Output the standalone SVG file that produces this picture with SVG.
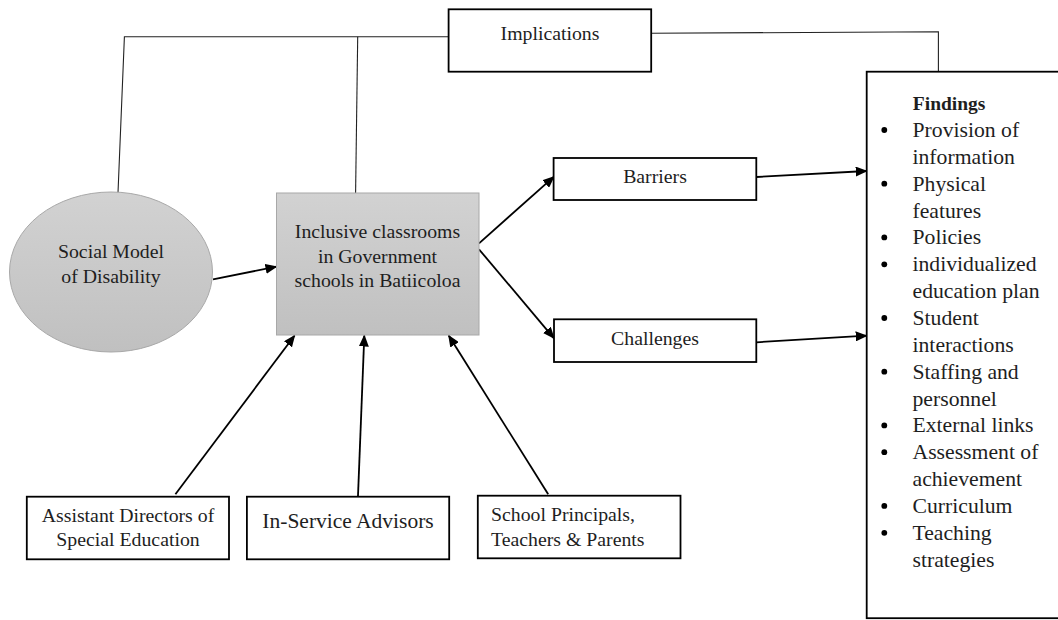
<svg xmlns="http://www.w3.org/2000/svg" width="1058" height="620" viewBox="0 0 1058 620">
<defs>
<linearGradient id="gfill" x1="0" y1="0" x2="0" y2="1">
<stop offset="0" stop-color="#d2d2d2"/>
<stop offset="1" stop-color="#c0c0c0"/>
</linearGradient>
<marker id="ah" markerUnits="userSpaceOnUse" markerWidth="12" markerHeight="10" refX="11" refY="5" orient="auto">
<path d="M0,0 L12,5 L0,10 z" fill="#000"/>
</marker>
<style>
text{font-family:"Liberation Serif","Times New Roman",serif;fill:#1e1e1e;}
.box{fill:#fff;stroke:#000;stroke-width:1.8;}
.gray{fill:url(#gfill);stroke:#a8a8a8;stroke-width:1;}
.thin{fill:none;stroke:#222;stroke-width:1.1;}
.arr{fill:none;stroke:#000;stroke-width:1.8;marker-end:url(#ah);}
.t20{font-size:19.8px;}
.tl{font-size:21.7px;}
</style>
</defs>
<rect width="1058" height="620" fill="#fff"/>

<g id="connectors">
<polyline class="thin" points="448.6,36.7 124.4,36.7 118,192.7"/>
<line class="thin" x1="357.7" y1="36.7" x2="355.6" y2="193"/>
<polyline class="thin" points="651,33.3 938.4,31.7 938.4,72"/>
<line class="arr" x1="213" y1="279.3" x2="276.5" y2="266.7"/>
<line class="arr" x1="479" y1="243.3" x2="554" y2="176.7"/>
<line class="arr" x1="479" y1="249.3" x2="554" y2="338.3"/>
<line class="arr" x1="756.3" y1="177" x2="866.7" y2="171"/>
<line class="arr" x1="756.3" y1="342.3" x2="866.7" y2="335.7"/>
<line class="arr" x1="175.4" y1="494.3" x2="294.6" y2="335.5"/>
<line class="arr" x1="358" y1="496" x2="364.3" y2="335.5"/>
<line class="arr" x1="548.2" y1="494.3" x2="448.7" y2="335.5"/>
</g>

<g id="implications">
<rect class="box" x="448.6" y="9.3" width="202.6" height="62.4"/>
<text class="t20" x="550" y="39.5" text-anchor="middle">Implications</text>
</g>

<g id="social-model">
<ellipse class="gray" cx="111" cy="272" rx="101.5" ry="80"/>
<text class="t20" x="111" y="258.3" text-anchor="middle">Social Model</text>
<text class="t20" x="111" y="283.3" text-anchor="middle">of Disability</text>
</g>

<g id="inclusive-classrooms">
<rect class="gray" x="276.5" y="193" width="202.5" height="142"/>
<text class="t20" x="377.5" y="238.3" text-anchor="middle">Inclusive classrooms</text>
<text class="t20" x="377.5" y="263.3" text-anchor="middle">in Government</text>
<text class="t20" x="377.5" y="287.3" text-anchor="middle">schools in Batiicoloa</text>
</g>

<g id="barriers">
<rect class="box" x="553.6" y="158" width="202.7" height="42"/>
<text class="t20" x="655" y="183.3" text-anchor="middle">Barriers</text>
</g>

<g id="challenges">
<rect class="box" x="554" y="319.3" width="202.3" height="42.7"/>
<text class="t20" x="655" y="345" text-anchor="middle">Challenges</text>
</g>

<g id="assistant-directors">
<rect class="box" x="26.8" y="496.7" width="202.2" height="62.6"/>
<text class="t20" x="128" y="521.7" text-anchor="middle">Assistant Directors of</text>
<text class="t20" x="128" y="546" text-anchor="middle">Special Education</text>
</g>

<g id="in-service-advisors">
<rect class="box" x="246.9" y="496.7" width="202.3" height="62.6"/>
<text x="348" y="528.3" text-anchor="middle" style="font-size:21.5px">In-Service Advisors</text>
</g>

<g id="school-principals">
<rect class="box" x="477.8" y="495.7" width="202.7" height="62.6"/>
<text class="t20" x="491" y="520.7">School Principals,</text>
<text class="t20" x="491" y="546">Teachers &amp; Parents</text>
</g>

<g id="findings">
<rect class="box" x="866.7" y="71.7" width="210" height="546.5"/>
<text x="912.8" y="110" style="font-size:19.5px;font-weight:bold">Findings</text>
<g fill="#000">
<circle cx="884.3" cy="130" r="2.9"/>
<circle cx="884.3" cy="183.7" r="2.9"/>
<circle cx="884.3" cy="237.4" r="2.9"/>
<circle cx="884.3" cy="264.3" r="2.9"/>
<circle cx="884.3" cy="318" r="2.9"/>
<circle cx="884.3" cy="371.7" r="2.9"/>
<circle cx="884.3" cy="425.4" r="2.9"/>
<circle cx="884.3" cy="452.2" r="2.9"/>
<circle cx="884.3" cy="505.9" r="2.9"/>
<circle cx="884.3" cy="532.8" r="2.9"/>
</g>
<text class="tl" x="912.5" y="137">Provision of</text>
<text class="tl" x="912.5" y="163.9">information</text>
<text class="tl" x="912.5" y="190.7">Physical</text>
<text class="tl" x="912.5" y="217.6">features</text>
<text class="tl" x="912.5" y="244.4">Policies</text>
<text class="tl" x="912.5" y="271.3">individualized</text>
<text class="tl" x="912.5" y="298.1">education plan</text>
<text class="tl" x="912.5" y="325">Student</text>
<text class="tl" x="912.5" y="351.8">interactions</text>
<text class="tl" x="912.5" y="378.7">Staffing and</text>
<text class="tl" x="912.5" y="405.5">personnel</text>
<text class="tl" x="912.5" y="432.4">External links</text>
<text class="tl" x="912.5" y="459.2">Assessment of</text>
<text class="tl" x="912.5" y="486.1">achievement</text>
<text class="tl" x="912.5" y="512.9">Curriculum</text>
<text class="tl" x="912.5" y="539.8">Teaching</text>
<text class="tl" x="912.5" y="566.6">strategies</text>
</g>
</svg>
